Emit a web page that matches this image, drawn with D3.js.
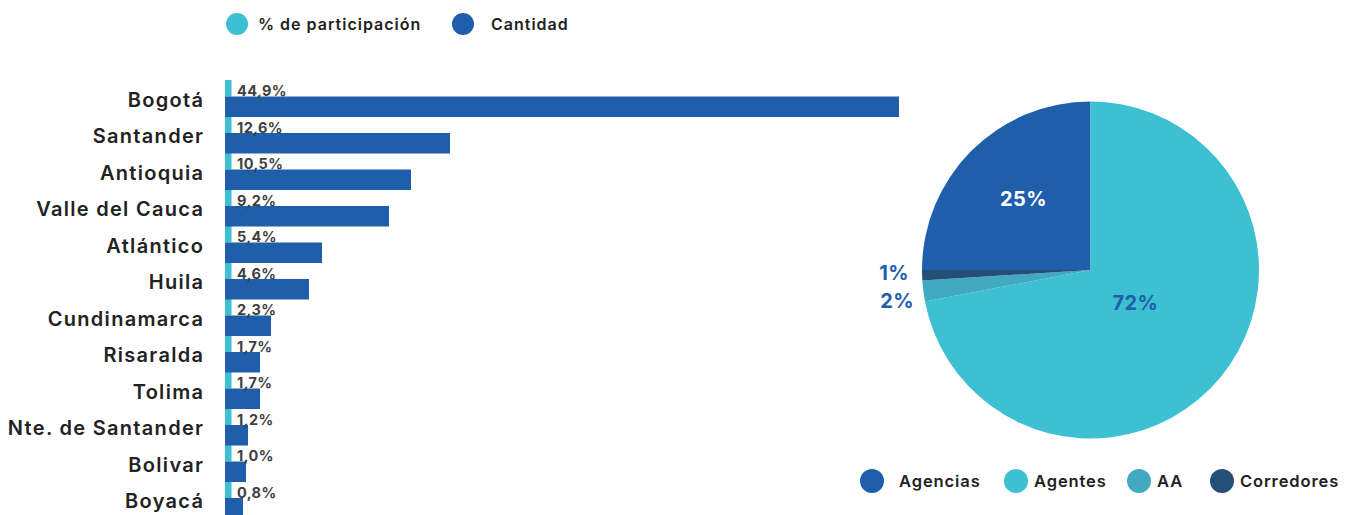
<!DOCTYPE html>
<html>
<head>
<meta charset="utf-8">
<script src="https://cdn.jsdelivr.net/npm/d3@7"></script>
<style>
  html, body { margin: 0; padding: 0; background: #fff; }
  svg { display: block; font-family: Inter, "Open Sans", sans-serif; }
</style>
</head>
<body>
<svg id="chart" width="1353" height="515"></svg>
<script>
// Departamentos y sus valores
const departamentos = ["Bogotá", "Santander", "Antioquia", "Valle del Cauca", "Atlántico", "Huila",
  "Cundinamarca", "Risaralda", "Tolima", "Nte. de Santander", "Bolivar", "Boyacá"];
const participacion = [44.9, 12.6, 10.5, 9.2, 5.4, 4.6, 2.3, 1.7, 1.7, 1.2, 1.0, 0.8];
const cantidad = [674, 225, 186, 164, 97, 84, 46, 35, 35, 23, 21, 18];
const seriesBarras = ["% de participación", "Cantidad"];

// Distribución por tipo de intermediario
const tipos = ["Agencias", "Agentes", "AA", "Corredores"];
const porcentajeTipo = [25, 72, 2, 1];

const cTeal = "#3cc0d2", cBlue = "#1f5eab", cAA = "#41a9c2", cDark = "#264f77";
const colorTipo = d3.scaleOrdinal().domain(tipos).range([cBlue, cTeal, cAA, cDark]);
const colorSerie = d3.scaleOrdinal().domain(seriesBarras).range([cTeal, cBlue]);

const svg = d3.select("#chart");

// ---------- Barras horizontales ----------
const x = d3.scaleLinear().domain([0, d3.max(cantidad)]).range([225, 899]);
const y = d3.scaleBand().domain(departamentos).range([80, 80 + departamentos.length * 36.5]);
const hPct = 16.5, hQty = 20.5, minW = 6.5;

const filas = departamentos.map((d, i) => ({ d, p: participacion[i], q: cantidad[i] }));

const g = svg.append("g");
g.selectAll("rect.pct").data(filas).join("rect")
  .attr("class", "pct")
  .attr("x", x(0))
  .attr("y", r => y(r.d))
  .attr("width", r => Math.max(minW, x(r.p / 100) - x(0)))
  .attr("height", hPct)
  .attr("fill", colorSerie("% de participación"));

g.selectAll("rect.qty").data(filas).join("rect")
  .attr("class", "qty")
  .attr("x", x(0))
  .attr("y", r => y(r.d) + hPct)
  .attr("width", r => x(r.q) - x(0))
  .attr("height", hQty)
  .attr("fill", colorSerie("Cantidad"));

g.selectAll("text.val").data(filas).join("text")
  .attr("class", "val")
  .attr("x", x(0) + 12)
  .attr("y", r => y(r.d) + hPct - 0.5)
  .attr("font-size", 14.5)
  .attr("letter-spacing", 0.4)
  .attr("font-weight", 700)
  .attr("fill", "#404040")
  .text(r => d3.format(".1f")(r.p).replace(".", ",") + "%");

g.selectAll("text.cat").data(filas).join("text")
  .attr("class", "cat")
  .attr("x", 204.3)
  .attr("y", r => y(r.d) + 19.5)
  .attr("dy", "0.35em")
  .attr("text-anchor", "end")
  .attr("font-size", 20)
  .attr("letter-spacing", 1.3)
  .attr("font-weight", 600)
  .attr("fill", "#222")
  .text(r => r.d);

// Leyenda superior
const legTop = svg.append("g");
const legTopX = [237, 463];
seriesBarras.forEach((s, i) => {
  legTop.append("circle").attr("cx", legTopX[i]).attr("cy", 24).attr("r", 11).attr("fill", colorSerie(s));
  legTop.append("text").attr("x", legTopX[i] + (i === 0 ? 21 : 28)).attr("y", 24).attr("dy", "0.35em")
    .attr("font-size", 16).attr("letter-spacing", 1.0)
    .attr("font-weight", 600).attr("fill", "#222").text(s);
});

// ---------- Torta ----------
const cx = 1090.5, cy = 270, R = 168.5;
const pie = d3.pie().sort(null).value(d => d.v)
  .startAngle(-Math.PI / 2).endAngle(Math.PI * 1.5);
const arcs = pie(tipos.map((t, i) => ({ t, v: porcentajeTipo[i] })));
const arc = d3.arc().innerRadius(0).outerRadius(R);

const gp = svg.append("g").attr("transform", `translate(${cx},${cy})`);
gp.selectAll("path").data(arcs).join("path")
  .attr("d", arc)
  .attr("fill", a => colorTipo(a.data.t));

// Etiquetas internas de las porciones grandes
const interior = { "Agencias": { r: 0.58, fill: "#fff" }, "Agentes": { r: 0.33, fill: cBlue } };
arcs.filter(a => interior[a.data.t]).forEach(a => {
  const m = (a.startAngle + a.endAngle) / 2, rr = R * interior[a.data.t].r;
  gp.append("text")
    .attr("x", Math.sin(m) * rr + 2).attr("y", -Math.cos(m) * rr - 2)
    .attr("dy", "0.35em").attr("text-anchor", "middle")
    .attr("font-size", 20).attr("letter-spacing", 0.4).attr("font-weight", 700)
    .attr("fill", interior[a.data.t].fill)
    .text(a.data.v + "%");
});

// Etiquetas externas de las porciones pequeñas, separadas verticalmente
const pequenas = arcs.filter(a => !interior[a.data.t])
  .map(a => ({ a, yy: -Math.cos((a.startAngle + a.endAngle) / 2) * R }))
  .sort((p, q) => p.yy - q.yy);
const meanY = d3.mean(pequenas, p => p.yy) + 4;
pequenas.forEach((p, i) => {
  gp.append("text")
    .attr("x", -R - 13 + i * 5)
    .attr("y", meanY + (i - (pequenas.length - 1) / 2) * 28)
    .attr("dy", "0.35em").attr("text-anchor", "end")
    .attr("font-size", 20).attr("letter-spacing", 0.4).attr("font-weight", 700).attr("fill", cBlue)
    .text(p.a.data.v + "%");
});

// Leyenda inferior
const legBot = svg.append("g");
const legBotX = [872, 1016, 1139, 1222];
tipos.forEach((t, i) => {
  legBot.append("circle").attr("cx", legBotX[i]).attr("cy", 481).attr("r", 12).attr("fill", colorTipo(t));
  legBot.append("text").attr("x", legBotX[i] + (i === 0 ? 27 : 18)).attr("y", 481).attr("dy", "0.35em")
    .attr("font-size", 16.5).attr("letter-spacing", 0.9)
    .attr("font-weight", 600).attr("fill", "#222").text(t);
});
</script>
</body>
</html>
